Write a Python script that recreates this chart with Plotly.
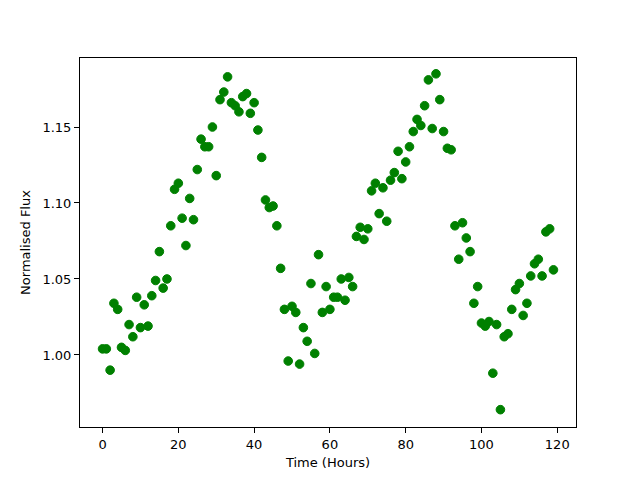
import plotly.graph_objects as go

time_hours = list(range(120))
flux = [
    1.004, 1.004, 0.990, 1.034, 1.030, 1.005, 1.003, 1.020, 1.012, 1.038,
    1.018, 1.033, 1.019, 1.039, 1.049, 1.068, 1.044, 1.050, 1.085, 1.109,
    1.113, 1.090, 1.072, 1.103, 1.089, 1.122, 1.142, 1.137, 1.137, 1.150,
    1.118, 1.168, 1.173, 1.183, 1.166, 1.164, 1.160, 1.170, 1.172, 1.159,
    1.166, 1.148, 1.130, 1.102, 1.097, 1.098, 1.085, 1.057, 1.030, 0.996,
    1.032, 1.028, 0.994, 1.018, 1.009, 1.047, 1.001, 1.066, 1.028, 1.045,
    1.030, 1.038, 1.038, 1.050, 1.036, 1.051, 1.045, 1.078, 1.084, 1.076,
    1.083, 1.108, 1.113, 1.093, 1.110, 1.088, 1.115, 1.120, 1.134, 1.116,
    1.127, 1.137, 1.147, 1.155, 1.151, 1.164, 1.181, 1.149, 1.185, 1.168,
    1.147, 1.136, 1.135, 1.085, 1.063, 1.087, 1.077, 1.068, 1.034, 1.045,
    1.021, 1.019, 1.022, 0.988, 1.020, 0.964, 1.012, 1.014, 1.030, 1.043,
    1.047, 1.026, 1.034, 1.052, 1.060, 1.063, 1.052, 1.081, 1.083, 1.056,
]
x_ticks = [0, 20, 40, 60, 80, 100, 120]
y_ticks = [1.00, 1.05, 1.10, 1.15]

fig = go.Figure(go.Scatter(
    x=time_hours, y=flux, mode="markers",
    marker=dict(color="#008000", size=8.6, line=dict(color="#008000", width=1)),
))

label_font = dict(family="DejaVu Sans", size=13, color="black")

axis_common = dict(
    showline=True, linecolor="black", linewidth=1, mirror=True,
    ticks="outside", ticklen=5, tickwidth=1, tickcolor="black",
    showgrid=False, zeroline=False,
    tickfont=label_font,
)

fig.update_layout(
    width=640, height=480,
    margin=dict(l=72, r=72, t=50, b=61, autoexpand=False),
    paper_bgcolor="white", plot_bgcolor="white",
    showlegend=False,
    font=label_font,
    xaxis=dict(range=[-5.95, 124.95], tickvals=x_ticks,
               title=dict(text="Time (Hours)", standoff=7, font=label_font),
               **axis_common),
    yaxis=dict(range=[0.9526, 1.1954], tickvals=y_ticks, tickformat=".2f",
               title=dict(text="Normalised Flux", standoff=8, font=label_font),
               **axis_common),
)

fig.write_html("out.html")
